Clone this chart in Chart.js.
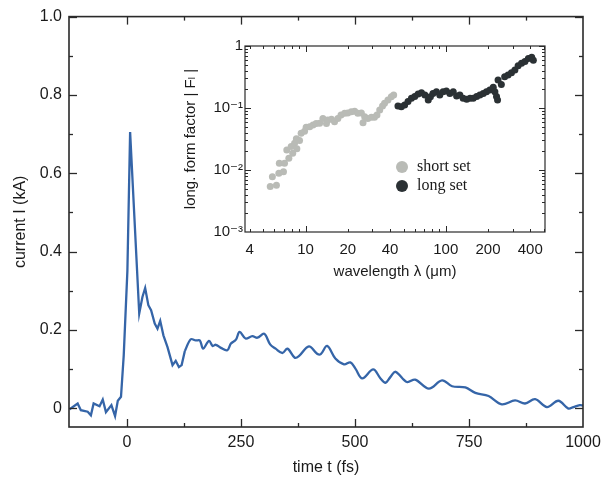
<!DOCTYPE html>
<html><head><meta charset="utf-8">
<script src="https://cdn.jsdelivr.net/npm/chart.js@4/dist/chart.umd.min.js"></script>
<style>
html,body{margin:0;padding:0;background:#fff;}
#wrap{position:relative;width:610px;height:477px;overflow:hidden;}
#main{position:absolute;left:0;top:0;width:610px;height:477px;}
#inset{position:absolute;left:170px;top:30px;width:390px;height:260px;}
</style></head><body>
<div id="wrap"><canvas id="main" width="610" height="477"></canvas><canvas id="inset" width="390" height="260"></canvas></div>
<script>
// ---------- main panel data: beam current vs time ----------
const earlyTime = [-126,-108,-101,-86,-79,-73,-60,-53,-46,-34,-26,-20,-13,-7,1,7,27,34,40,47,53,61,67,73,80,89,100,107,114,120,127];
const earlyCurrent = [-0.003,0.012,-0.005,-0.009,-0.018,0.012,0.005,0.022,-0.010,0.008,-0.020,0.019,0.029,0.135,0.35,0.705,0.242,0.284,0.307,0.263,0.250,0.216,0.203,0.223,0.186,0.156,0.110,0.121,0.105,0.110,0.146];
const lateTime = [127,140,151,160,167,180,188,195,206,220,228,239,247,260,275,286,301,314,326,341,352,368,377,399,417,425,439,457,476,490,501,516,540,556,567,578,589,614,632,662,691,713,742,764,793,822,851,873,895,921,946,968,979,993,1000];
const lateCurrent = [0.146,0.176,0.173,0.173,0.152,0.172,0.159,0.162,0.154,0.148,0.165,0.175,0.195,0.178,0.184,0.180,0.190,0.163,0.152,0.141,0.152,0.129,0.133,0.158,0.139,0.138,0.159,0.127,0.112,0.117,0.101,0.076,0.099,0.076,0.065,0.080,0.093,0.067,0.073,0.050,0.071,0.056,0.053,0.039,0.031,0.010,0.020,0.012,0.023,0.003,0.019,-0.001,0.003,0.008,0.007];
const mainXTicks = [0,250,500,750,1000];
const mainXMinor = [125,375,625,875];
const mainYTicks = [0,0.2,0.4,0.6,0.8,1.0];
const mainYLabels = ['0','0.2','0.4','0.6','0.8','1.0'];
const mainYMinor = [0.1,0.3,0.5,0.7,0.9];

// ---------- inset data: longitudinal form factor vs wavelength ----------
const shortLambda = [5.6,5.8,6.2,6.45,6.5,6.96,7.08,7.35,7.6,7.9,8.1,8.35,8.6,8.67,9.06,9.3,9.84,10.1,10.7,11.3,11.9,12.6,13.3,14.1,14.4,15.3,16.1,17.0,17.9,19.0,20.0,21.2,22.4,23.6,25.0,25.7,26.4,27.8,29.5,31.0,32.3,33.8,35.4,36.6,38.7,40.9,42.5];
const shortF = [0.0054,0.0078,0.0057,0.0089,0.0128,0.0094,0.0128,0.021,0.0155,0.024,0.0186,0.027,0.032,0.022,0.030,0.039,0.042,0.049,0.050,0.053,0.056,0.057,0.068,0.056,0.064,0.066,0.060,0.068,0.077,0.082,0.083,0.087,0.089,0.082,0.083,0.058,0.072,0.068,0.071,0.071,0.077,0.093,0.108,0.119,0.135,0.152,0.162];
const longLambda = [45.6,48.2,50.9,53.8,56.9,60.1,63.5,67.1,71,75,77.7,81,85.8,90.6,95.6,101,106.9,113,119.5,126,133,141,149,157,166,175,185,195,206,218,224,230,234,236,249,263,278,294,311,328,347,367,388,410,421];
const longF = [0.108,0.105,0.112,0.127,0.143,0.153,0.168,0.177,0.162,0.135,0.152,0.172,0.183,0.162,0.183,0.188,0.172,0.183,0.156,0.162,0.143,0.138,0.143,0.143,0.153,0.162,0.172,0.183,0.195,0.216,0.183,0.153,0.135,0.284,0.24,0.32,0.34,0.37,0.41,0.48,0.525,0.56,0.63,0.66,0.59];
const insetXTicks = [4,10,20,40,100,200,400];
const insetXMajor = [10,100];
const insetXMinor = [4,5,6,7,8,9,20,30,40,50,60,70,80,90,200,300,400,500];
const insetYTicks = [0.001,0.01,0.1,1];
const insetYLabels = ['10\u207B\u00B3','10\u207B\u00B2','10\u207B\u00B9','1'];
const insetYMinor = [0.002,0.003,0.004,0.005,0.006,0.007,0.008,0.009,0.02,0.03,0.04,0.05,0.06,0.07,0.08,0.09,0.2,0.3,0.4,0.5,0.6,0.7,0.8,0.9];
const seriesNames = ['short set','long set'];

const SANS = "'Liberation Sans', Arial, 'DejaVu Sans', sans-serif";
const SERIF = "'Liberation Serif', 'Times New Roman', serif";
Chart.defaults.font.family = SANS;
Chart.defaults.color = '#1a1a1a';

function frameTicks(opts) {
  return {
    id: 'frameTicks',
    afterDraw(chart) {
      const {ctx, chartArea: a, scales} = chart;
      const xs = scales.x, ys = scales.y;
      const line = (x1,y1,x2,y2) => { ctx.beginPath(); ctx.moveTo(x1,y1); ctx.lineTo(x2,y2); ctx.stroke(); };
      ctx.save();
      ctx.strokeStyle = opts.color;
      ctx.lineWidth = opts.tickWidth;
      const xt = (vals, len) => vals.forEach(v => { const p = Math.round(xs.getPixelForValue(v)) + 0.5; if (p < a.left || p > a.right) return; line(p, a.bottom, p, a.bottom - len); line(p, a.top, p, a.top + len); });
      const yt = (vals, len) => vals.forEach(v => { const p = Math.round(ys.getPixelForValue(v)) + 0.5; if (p < a.top || p > a.bottom) return; line(a.left, p, a.left + len, p); line(a.right, p, a.right - len, p); });
      xt(opts.xMajor, opts.major); xt(opts.xMinor, opts.minor);
      yt(opts.yMajor, opts.major); yt(opts.yMinor, opts.minor);
      ctx.lineWidth = opts.frameWidth;
      ctx.strokeRect(a.left, a.top, a.right - a.left, a.bottom - a.top);
      ctx.restore();
    }
  };
}

// ---------- main chart ----------
new Chart(document.getElementById('main'), {
  type: 'line',
  data: {
    datasets: [
      { data: earlyTime.map((t,i) => ({x: t, y: earlyCurrent[i]})), borderColor: '#3565a8', borderWidth: 2.3, pointRadius: 0, tension: 0, fill: false },
      { data: lateTime.map((t,i) => ({x: t, y: lateCurrent[i]})), borderColor: '#3565a8', borderWidth: 2.3, pointRadius: 0, tension: 0.35, fill: false }
    ]
  },
  options: {
    responsive: false, animation: false,
    layout: { padding: { left: 0, right: 27, top: 16, bottom: 0 } },
    plugins: { legend: { display: false }, tooltip: { enabled: false } },
    scales: {
      x: {
        type: 'linear', min: -127, max: 1000,
        grid: { display: false, drawTicks: false }, border: { display: false },
        afterBuildTicks: s => { s.ticks = mainXTicks.map(v => ({value: v})); },
        ticks: { font: { size: 16 }, padding: 6, maxRotation: 0, callback: v => String(v) },
        title: { display: true, text: 'time t (fs)', font: { size: 16 }, padding: { top: 0, bottom: 0 } },
        afterFit: s => { s.height = 50; }
      },
      y: {
        type: 'linear', min: -0.048, max: 1.0,
        grid: { display: false, drawTicks: false }, border: { display: false },
        afterBuildTicks: s => { s.ticks = mainYTicks.map(v => ({value: v})); },
        ticks: { font: { size: 16 }, padding: 7, callback: (v, i) => mainYLabels[i] },
        title: { display: true, text: 'current I (kA)', font: { size: 16 }, padding: { top: 11, bottom: 0 } },
        afterFit: s => { s.width = 69; }
      }
    }
  },
  plugins: [frameTicks({ color: '#2a2a2a', tickWidth: 1.3, frameWidth: 1.6, major: 8, minor: 4,
    xMajor: mainXTicks, xMinor: mainXMinor, yMajor: mainYTicks, yMinor: mainYMinor })]
});

// ---------- inset chart ----------
const insetLegend = {
  id: 'insetLegend',
  afterDraw(chart) {
    const {ctx, chartArea: a} = chart;
    ctx.save();
    chart.data.datasets.forEach((ds, i) => {
      const cx = a.left + 157, cy = a.top + 121 + i * 19;
      ctx.fillStyle = ds.backgroundColor;
      ctx.beginPath(); ctx.arc(cx, cy, 6, 0, Math.PI * 2); ctx.fill();
      ctx.fillStyle = '#1a1a1a';
      ctx.font = '16px ' + SERIF;
      ctx.textBaseline = 'middle'; ctx.textAlign = 'left';
      ctx.fillText(ds.label, a.left + 172, cy);
    });
    ctx.restore();
  }
};

new Chart(document.getElementById('inset'), {
  type: 'scatter',
  data: {
    datasets: [
      { label: seriesNames[0], data: shortLambda.map((l,i) => ({x: l, y: shortF[i]})), backgroundColor: '#b9bbb6', borderWidth: 0, pointRadius: 3.5 },
      { label: seriesNames[1], data: longLambda.map((l,i) => ({x: l, y: longF[i]})), backgroundColor: '#2b3134', borderWidth: 0, pointRadius: 3.5 }
    ]
  },
  options: {
    responsive: false, animation: false,
    layout: { padding: { left: 0, right: 15, top: 16, bottom: 0 } },
    plugins: { legend: { display: false }, tooltip: { enabled: false } },
    scales: {
      x: {
        type: 'logarithmic', min: 3.7, max: 510,
        grid: { display: false, drawTicks: false }, border: { display: false },
        afterBuildTicks: s => { s.ticks = insetXTicks.map(v => ({value: v})); },
        ticks: { font: { size: 15 }, padding: 9, maxRotation: 0, autoSkip: false, callback: v => String(v) },
        title: { display: true, text: 'wavelength \u03BB (\u03BCm)', font: { size: 15 }, padding: { top: 0, bottom: 9 } },
        afterFit: s => { s.height = 58; }
      },
      y: {
        type: 'logarithmic', min: 0.001, max: 1,
        grid: { display: false, drawTicks: false }, border: { display: false },
        afterBuildTicks: s => { s.ticks = insetYTicks.map(v => ({value: v})); },
        ticks: { font: { size: 15 }, padding: 2, autoSkip: false, callback: (v, i) => insetYLabels[i] },
        title: { display: true, text: 'long. form factor | F\u2097 |', font: { size: 15 }, padding: { top: 12, bottom: 0 } },
        afterFit: s => { s.width = 75; }
      }
    }
  },
  plugins: [insetLegend, frameTicks({ color: '#2a2a2a', tickWidth: 1, frameWidth: 1.2, major: 6, minor: 3,
    xMajor: insetXMajor, xMinor: insetXMinor, yMajor: insetYTicks, yMinor: insetYMinor })]
});
</script>
</body></html>
